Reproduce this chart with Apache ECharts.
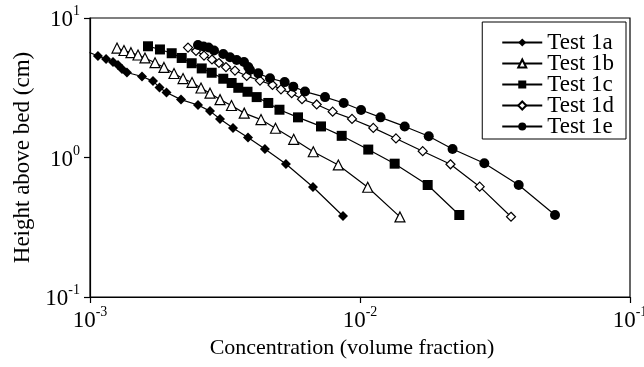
<!DOCTYPE html>
<html>
<head>
<meta charset="utf-8">
<script src="https://cdn.jsdelivr.net/npm/echarts@6/dist/echarts.min.js"></script>
<style>
  html, body { margin: 0; padding: 0; background: #fff; }
  #chart { width: 644px; height: 367px; }
</style>
</head>
<body>
<div id="chart"></div>
<script>
// concentration (volume fraction) / height above bed (cm)
const test1a = [
  [0.000996, 5.66], [0.00107, 5.34], [0.001147, 5.08], [0.001217, 4.84], [0.00127, 4.60],
  [0.001314, 4.31], [0.00137, 4.07], [0.001558, 3.81], [0.001711, 3.53], [0.001809, 3.18],
  [0.00192, 2.92], [0.002173, 2.60], [0.002512, 2.38], [0.002783, 2.15], [0.003031, 1.89],
  [0.003385, 1.63], [0.003847, 1.39], [0.004446, 1.15], [0.005318, 0.898], [0.006696, 0.614],
  [0.00865, 0.381]
];
const test1b = [
  [0.001259, 6.09], [0.001336, 5.85], [0.001418, 5.64], [0.001506, 5.43], [0.001598, 5.17],
  [0.001741, 4.78], [0.001879, 4.42], [0.002047, 4.00], [0.002211, 3.68], [0.002387, 3.45],
  [0.002577, 3.15], [0.002783, 2.89], [0.003031, 2.60], [0.003342, 2.36], [0.003726, 2.08],
  [0.004299, 1.87], [0.004864, 1.62], [0.005681, 1.35], [0.006714, 1.10], [0.008312, 0.884],
  [0.01068, 0.612], [0.01406, 0.375]
];
const test1c = [
  [0.00164, 6.27], [0.001816, 5.95], [0.002007, 5.59], [0.002186, 5.17], [0.00238, 4.74],
  [0.002593, 4.35], [0.002823, 4.05], [0.003116, 3.67], [0.003347, 3.42], [0.003542, 3.16],
  [0.003831, 2.96], [0.004143, 2.71], [0.004574, 2.46], [0.005032, 2.20], [0.005894, 1.94],
  [0.00717, 1.67], [0.008555, 1.43], [0.01073, 1.14], [0.01344, 0.903], [0.01781, 0.635],
  [0.02332, 0.387]
];
const test1d = [
  [0.002307, 6.14], [0.00247, 5.80], [0.002644, 5.38], [0.00283, 5.04], [0.003004, 4.76],
  [0.003189, 4.45], [0.003443, 4.20], [0.003805, 3.84], [0.004262, 3.56], [0.004741, 3.31],
  [0.005097, 3.08], [0.005585, 2.89], [0.006098, 2.62], [0.006913, 2.40], [0.00792, 2.13],
  [0.009341, 1.89], [0.0112, 1.63], [0.01359, 1.37], [0.01707, 1.11], [0.02163, 0.894],
  [0.02775, 0.618], [0.03625, 0.376]
];
const test1e = [
  [0.002512, 6.41], [0.002633, 6.25], [0.002748, 6.14], [0.00288, 5.85], [0.003116, 5.52],
  [0.0033, 5.23], [0.003494, 5.00], [0.003718, 4.84], [0.003857, 4.45], [0.003914, 4.24],
  [0.0042, 4.01], [0.004642, 3.70], [0.00526, 3.47], [0.005662, 3.22], [0.006256, 2.97],
  [0.007421, 2.71], [0.008701, 2.46], [0.01009, 2.19], [0.01191, 1.94], [0.01464, 1.67],
  [0.01797, 1.42], [0.02202, 1.15], [0.02887, 0.909], [0.03871, 0.635], [0.05275, 0.387]
];

const FONT = '"Liberation Serif", "Times New Roman", serif';

const powerLabel = function (v) {
  const e = Math.round(Math.log10(v));
  return '{b|10}{s|' + e + '}';
};
const powerRich = {
  b: { fontSize: 23, fontFamily: FONT, color: '#000', lineHeight: 27, verticalAlign: 'bottom' },
  s: { fontSize: 14, fontFamily: FONT, color: '#000', lineHeight: 14, verticalAlign: 'top' }
};

const makeSeries = function (name, data, symbol, size, filled) {
  return {
    name: name,
    type: 'line',
    data: data,
    symbol: symbol,
    symbolSize: size,
    showAllSymbol: true,
    lineStyle: { color: '#000', width: 1.2 },
    itemStyle: {
      color: filled ? '#000' : '#fff',
      borderColor: '#000',
      borderWidth: filled ? 0 : 1.2
    },
    emphasis: { disabled: true },
    animation: false
  };
};

const chart = echarts.init(document.getElementById('chart'));

chart.setOption({
  backgroundColor: '#fff',
  animation: false,
  textStyle: { fontFamily: FONT },
  grid: {
    left: 90, right: 14, top: 18, bottom: 70,
    outerBoundsMode: 'none',
    containLabel: false,
    show: true, borderColor: '#000', borderWidth: 1.2
  },
  legend: {
    orient: 'vertical',
    right: 18,
    top: 22,
    backgroundColor: '#fff',
    borderColor: '#000',
    borderWidth: 1,
    borderRadius: 0,
    padding: [9, 12, 1, 19],
    itemGap: -2,
    itemWidth: 40,
    itemHeight: 10,
    textStyle: { fontSize: 23, lineHeight: 20, fontFamily: FONT, color: '#000' },
    data: ['Test 1a', 'Test 1b', 'Test 1c', 'Test 1d', 'Test 1e']
  },
  xAxis: {
    type: 'log',
    logBase: 10,
    min: 0.001,
    max: 0.1,
    name: 'Concentration (volume fraction)',
    nameLocation: 'middle',
    nameGap: 40,
    nameTextStyle: { fontSize: 22, fontFamily: FONT, color: '#000', padding: [0, 16, 0, 0] },
    axisLine: { lineStyle: { color: '#000', width: 1.2 } },
    axisTick: { inside: false, length: 6, lineStyle: { color: '#000', width: 1.2 } },
    minorTick: { show: false },
    splitLine: { show: false },
    axisLabel: { formatter: powerLabel, rich: powerRich, margin: 8 }
  },
  yAxis: {
    type: 'log',
    logBase: 10,
    min: 0.1,
    max: 10,
    name: 'Height above bed (cm)',
    nameLocation: 'middle',
    nameGap: 56,
    nameTextStyle: { fontSize: 23, fontFamily: FONT, color: '#000' },
    axisLine: { lineStyle: { color: '#000', width: 1.2 } },
    axisTick: { inside: false, length: 6, lineStyle: { color: '#000', width: 1.2 } },
    minorTick: { show: false },
    splitLine: { show: false },
    axisLabel: { formatter: powerLabel, rich: powerRich, margin: 10 }
  },
  series: [
    makeSeries('Test 1a', test1a, 'diamond', 10, true),
    makeSeries('Test 1b', test1b, 'triangle', 10, false),
    makeSeries('Test 1c', test1c, 'rect', 10, true),
    makeSeries('Test 1d', test1d, 'diamond', 9, false),
    makeSeries('Test 1e', test1e, 'circle', 10, true)
  ]
});
</script>
</body>
</html>
